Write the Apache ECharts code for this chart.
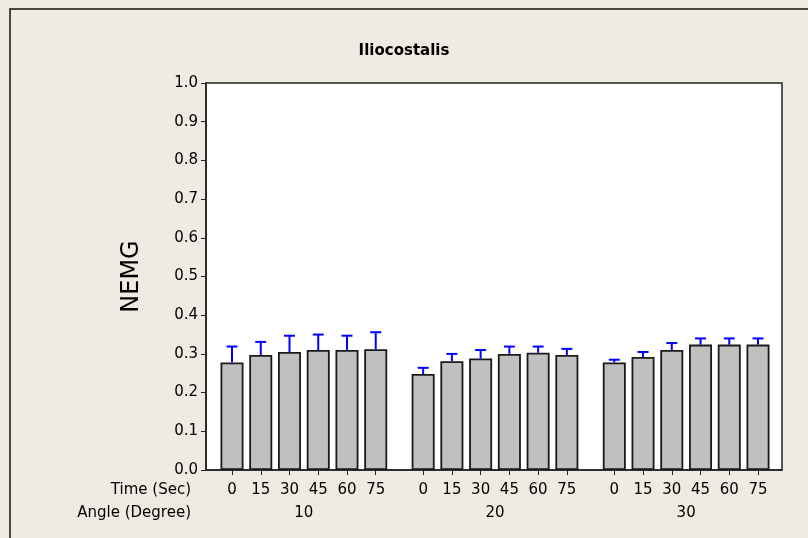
<!DOCTYPE html>
<html>
<head>
<meta charset="utf-8">
<script src="https://cdn.jsdelivr.net/npm/echarts@6/dist/echarts.min.js"></script>
<style>
html,body{margin:0;padding:0;background:#EFEBE2;}
#c{width:808px;height:538px;}
</style>
</head>
<body>
<div id="c"></div>
<script>
// ---- data ----
var angles = ['10', '20', '30'];
var times = ['0', '15', '30', '45', '60', '75'];
var mean10 = [0.278, 0.297, 0.305, 0.310, 0.310, 0.312];
var mean20 = [0.248, 0.281, 0.288, 0.300, 0.303, 0.297];
var mean30 = [0.278, 0.292, 0.310, 0.324, 0.324, 0.324];
var upper10 = [0.319, 0.331, 0.347, 0.350, 0.347, 0.356];
var upper20 = [0.264, 0.300, 0.310, 0.319, 0.319, 0.313];
var upper30 = [0.285, 0.305, 0.328, 0.340, 0.340, 0.340];
var yTicks = [0, 0.1, 0.2, 0.3, 0.4, 0.5, 0.6, 0.7, 0.8, 0.9, 1.0];

// ---- layout helpers ----
var GROUP_STEP = 6.65;
var means = [mean10, mean20, mean30];
var uppers = [upper10, upper20, upper30];
var barData = [], errData = [], tickPos = [], tickText = {}, groupPos = [], groupText = {};
for (var g = 0; g < angles.length; g++) {
  for (var i = 0; i < times.length; i++) {
    var x = +(g * GROUP_STEP + i).toFixed(3);
    barData.push([x, means[g][i]]);
    errData.push([x, means[g][i], uppers[g][i]]);
    tickPos.push(x);
    tickText[x] = times[i];
  }
  var c = +(g * GROUP_STEP + (times.length - 1) / 2).toFixed(3);
  groupPos.push(c);
  groupText[c] = angles[g];
}

var FONT = 'DejaVu Sans';
var chart = echarts.init(document.getElementById('c'));
chart.setOption({
  backgroundColor: '#EFEBE2',
  animation: false,
  title: {
    text: 'Iliocostalis', left: 'center', top: 39,
    textStyle: {fontFamily: FONT, fontSize: 15, fontWeight: 'bold', color: '#000'}
  },
  graphic: [
    {type: 'rect', shape: {x: 10, y: 9, width: 900, height: 700},
     style: {fill: null, stroke: '#111', lineWidth: 1.5}, silent: true},
    {type: 'text', right: 617, top: 483,
     style: {text: 'Time (Sec)', font: '15px "DejaVu Sans"', fill: '#000', textAlign: 'right'}},
    {type: 'text', right: 617, top: 506,
     style: {text: 'Angle (Degree)', font: '15px "DejaVu Sans"', fill: '#000', textAlign: 'right'}}
  ],
  grid: {left: 206, right: 26, top: 83, bottom: 68, show: true,
         backgroundColor: '#fff', borderColor: '#222', borderWidth: 1.5},
  xAxis: [{
    type: 'value', min: -0.905, max: 19.135,
    axisLine: {show: true, onZero: false, lineStyle: {color: '#222', width: 1.5}},
    splitLine: {show: false},
    axisTick: {show: true, length: 5, customValues: tickPos, lineStyle: {color: '#222'}},
    axisLabel: {show: true, customValues: tickPos, margin: 13,
      fontFamily: FONT, fontSize: 15, color: '#000',
      formatter: function (v) { return tickText[+v.toFixed(3)] || ''; }}
  }, {
    type: 'value', min: -0.905, max: 19.135, position: 'bottom',
    axisLine: {show: false, onZero: false}, axisTick: {show: false}, splitLine: {show: false},
    axisLabel: {show: true, customValues: groupPos, margin: 36,
      fontFamily: FONT, fontSize: 15, color: '#000',
      formatter: function (v) { return groupText[+v.toFixed(3)] || ''; }}
  }],
  yAxis: {
    type: 'value', min: 0, max: 1, interval: 0.1,
    name: 'NEMG', nameLocation: 'middle', nameGap: 62,
    nameTextStyle: {fontFamily: FONT, fontSize: 24, color: '#000'},
    axisLine: {show: true, onZero: false, lineStyle: {color: '#222', width: 1.5}},
    axisTick: {show: true, length: 5, lineStyle: {color: '#222'}},
    splitLine: {show: false},
    axisLabel: {margin: 8, fontFamily: FONT, fontSize: 15, color: '#000',
      formatter: function (v) { return v.toFixed(1); }}
  },
  series: [{
    type: 'bar', data: barData, barWidth: 23, xAxisIndex: 0,
    itemStyle: {color: '#C0C0C0', borderColor: '#1a1a1a', borderWidth: 1.8}
  }, {
    type: 'custom', xAxisIndex: 0, data: errData, z: 5,
    encode: {x: 0, y: [1, 2]},
    renderItem: function (params, api) {
      var x = api.value(0);
      var p0 = api.coord([x, api.value(1)]);
      var p1 = api.coord([x, api.value(2)]);
      var hw = 5.5;
      var st = {stroke: '#0000FF', lineWidth: 2};
      return {type: 'group', children: [
        {type: 'line', shape: {x1: p0[0], y1: p0[1], x2: p1[0], y2: p1[1]}, style: st},
        {type: 'line', shape: {x1: p1[0] - hw, y1: p1[1], x2: p1[0] + hw, y2: p1[1]}, style: st}
      ]};
    }
  }]
});
</script>
</body>
</html>
